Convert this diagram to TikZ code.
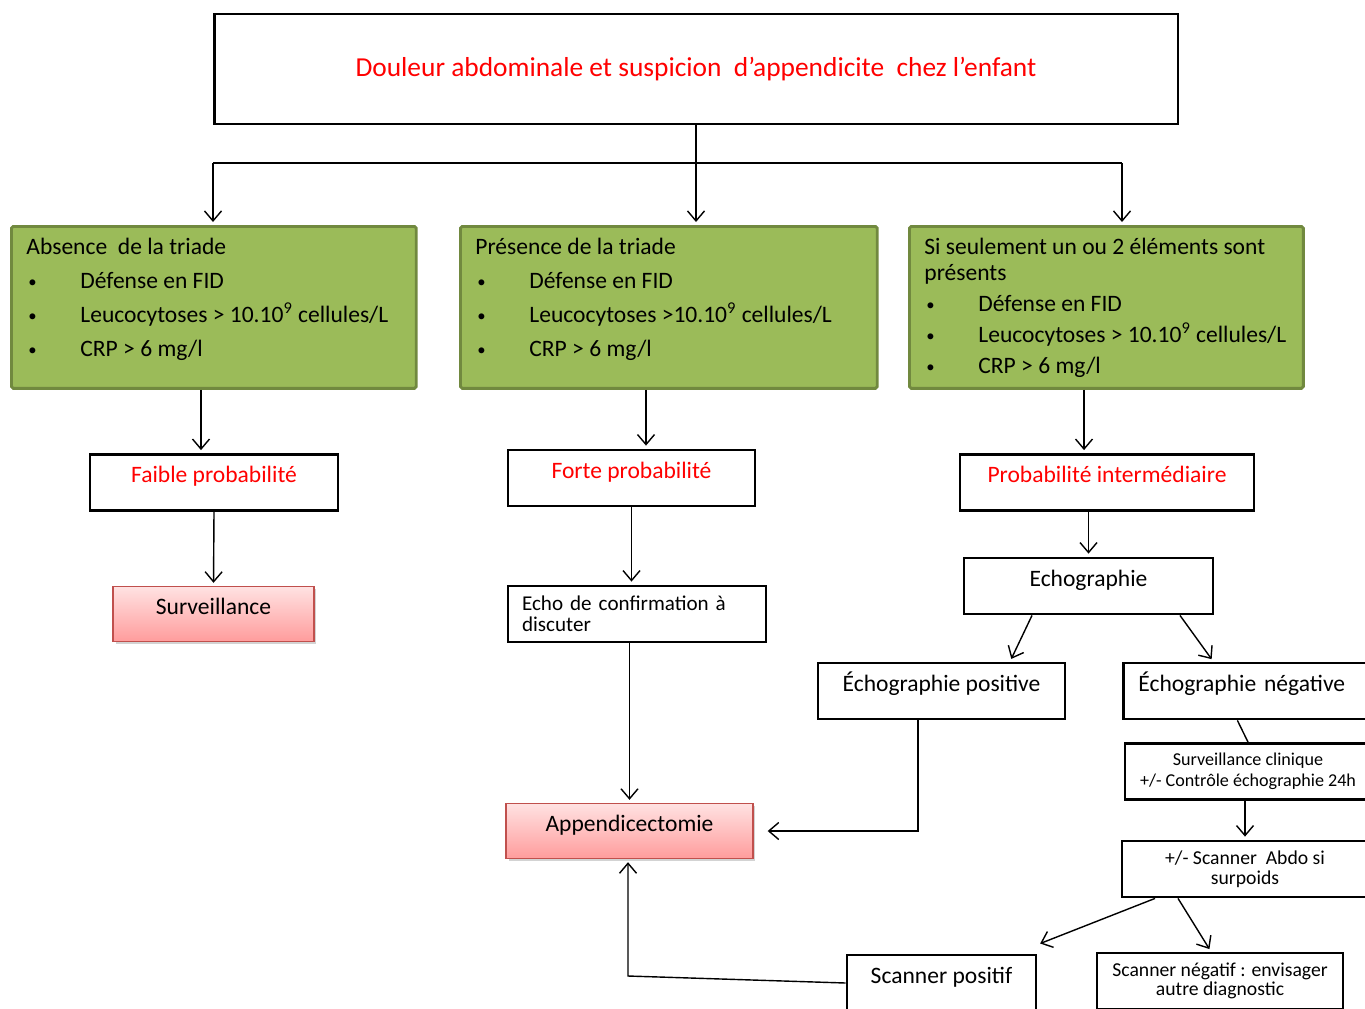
\documentclass[tikz,border=0pt]{standalone}
\usepackage{fontspec}
\setmainfont{Carlito}
\usepackage{tikz}
\usepackage{xcolor}
\usetikzlibrary{arrows.meta,shadows}
\definecolor{triade-green}{HTML}{9BBB59}
\definecolor{triade-border}{HTML}{71893F}
\definecolor{pink-top}{HTML}{FFE2E2}
\definecolor{pink-bottom}{HTML}{FF9C9C}
\definecolor{pink-border}{HTML}{C0504D}
\newcommand{\puce}[1]{\mbox{\makebox[1.08cm][l]{\hspace{0.04cm}\raisebox{0.06em}{\fontsize{9.5}{9.5}\selectfont •}}#1}}
\tikzset{
    title-box/.style = {draw, line width=1.6pt, rectangle, text=red, font=\fontsize{15.6}{18}\selectfont, minimum width=19.28cm, minimum height=2.2cm},
    triade-box/.style = {draw=triade-border, fill=triade-green, line width=1.6pt, rectangle, rounded corners=1pt, anchor=north west, inner xsep=0.3cm, inner ysep=0.24cm},
    step-box/.style = {draw, fill=white, line width=1.6pt, rectangle, minimum height=1.12cm, text height=0.75em, text depth=0.7em},
    note-box/.style = {draw, fill=white, line width=1.6pt, rectangle, minimum height=1.12cm, align=center},
    result-box/.style = {draw=pink-border, line width=0.8pt, rectangle, top color=pink-top, bottom color=pink-bottom, drop shadow={shadow xshift=0.05cm, shadow yshift=-0.05cm, opacity=0.35}, minimum height=1.1cm, text height=0.75em, text depth=0.7em},
    flow/.style = {-{Straight Barb[length=0.2cm, width=0.34cm]}, line width=0.8pt, shorten >=0.06cm},
    link/.style = {line width=0.8pt},
}

\begin{document}
\begin{tikzpicture}[x=0.02cm, y=-0.02cm, font=\fontsize{13.4}{16}\selectfont]
\useasboundingbox (0,0) rectangle (1365,1008);
\node[title-box] (title) at (696,69) {Douleur abdominale et suspicion\ \ d’appendicite\ \ chez l’enfant};

\node[triade-box] (absent) at (10,225) {\begin{minipage}[t][2.76cm][t]{7.5cm}\fontsize{13.4}{19.3}\selectfont
Absence\ \ de la triade\\
\puce{Défense en FID}\\
\puce{Leucocytoses > 10.10\textsuperscript{9} cellules/L}\\
\puce{CRP > 6 mg/l}
\end{minipage}};
\node[triade-box] (present) at (459,225) {\begin{minipage}[t][2.76cm][t]{7.74cm}\fontsize{13.4}{19.3}\selectfont
Présence de la triade\\
\puce{Défense en FID}\\
\puce{Leucocytoses >10.10\textsuperscript{9} cellules/L}\\
\puce{CRP > 6 mg/l}
\end{minipage}};
\node[triade-box] (partial) at (908,225) {\begin{minipage}[t][2.76cm][t]{7.28cm}\fontsize{13.4}{14.9}\selectfont
Si seulement un ou 2 éléments sont\\
présents\\[2.7pt]
\puce{Défense en FID}\\[2.7pt]
\puce{Leucocytoses > 10.10\textsuperscript{9} cellules/L}\\[2.7pt]
\puce{CRP > 6 mg/l}
\end{minipage}};

\node[step-box, text=red, minimum width=4.96cm] (faible) at (214,482.5) {Faible probabilité};
\node[result-box, minimum width=4.02cm] (surv) at (213.5,614) {Surveillance};
\node[step-box, text=red, minimum width=4.94cm] (forte) at (631.5,478) {Forte probabilité};
\node[note-box, minimum width=5.16cm, text width=4.6cm, align=left, font=\fontsize{12}{12.2}\selectfont] (echo-confirm) at (637,614) {Echo de confirmation à\\discuter};
\node[result-box, minimum width=4.94cm] (append) at (629.5,831) {Appendicectomie};
\node[step-box, text=red, minimum width=5.88cm] (interm) at (1107,482.5) {Probabilité intermédiaire};
\node[step-box, minimum width=4.98cm] (echographie) at (1088.5,586) {Echographie};
\node[step-box, minimum width=4.94cm] (echo-pos) at (941.5,691) {Échographie positive};
\node[step-box, minimum width=5cm, text width=4.4cm, align=left, anchor=west] (echo-neg) at (1122,691) {Échographie négative};
\node[note-box, minimum width=4.92cm, font=\fontsize{10.3}{11.9}\selectfont] (surv-clin) at (1248,771.5) {Surveillance clinique\\+/- Contrôle échographie 24h};
\node[note-box, minimum width=4.92cm, font=\fontsize{11.2}{11.4}\selectfont] (scan-abdo) at (1245,869) {+/- Scanner\ \ Abdo si\\surpoids};
\node[step-box, minimum width=3.78cm] (scan-pos) at (941.5,983) {Scanner positif};
\node[note-box, minimum width=4.92cm, font=\fontsize{11.2}{11}\selectfont] (scan-neg) at (1220,981) {Scanner négatif : envisager\\autre diagnostic};

\coordinate (split-left) at (213,163);
\coordinate (split-right) at (1122,163);
\coordinate (turn) at (628,976);
\coordinate (faible-in) at ([xshift=-0.26cm]faible.north);
\coordinate (forte-in) at ([xshift=0.29cm]forte.north);
\coordinate (interm-in) at ([xshift=-0.46cm]interm.north);

\draw[flow] (title.south) -- (title.south |- present.north);
\draw[link] (split-left) -- (split-right);
\draw[flow] (split-left) -- (split-left |- absent.north);
\draw[flow] (split-right) -- (split-right |- partial.north);
\draw[flow] (faible-in |- absent.south) -- (faible-in);
\draw[flow] (faible.south) -- (surv.north);
\draw[flow] (forte-in |- present.south) -- (forte-in);
\draw[flow] (forte.south) -- (forte.south |- echo-confirm.north);
\draw[flow] (append.north |- echo-confirm.south) -- (append.north);
\draw[flow] (interm-in |- partial.south) -- (interm-in);
\draw[flow] (echographie.north |- interm.south) -- (echographie.north);
\draw[flow] ([xshift=-1.13cm]echographie.south) -- ([xshift=1.37cm]echo-pos.north);
\draw[flow] ([xshift=1.83cm]echographie.south) -- ([xshift=-0.7cm]echo-neg.north);
\draw[flow, shorten >=0.28cm] ([xshift=-0.47cm]echo-pos.south) |- (append.east);
\draw[link] ([xshift=-0.22cm]echo-neg.south) -- (surv-clin.north);
\draw[flow] (scan-abdo.north |- surv-clin.south) -- (scan-abdo.north);
\draw[flow] ([xshift=-1.8cm]scan-abdo.south) -- ([yshift=0.18cm]scan-pos.north east);
\draw[flow] ([xshift=-1.34cm]scan-abdo.south) -- ([xshift=-0.18cm]scan-neg.north);
\draw[flow] (scan-pos.west) -- (turn) -- (turn |- append.south);
\end{tikzpicture}
\end{document}
